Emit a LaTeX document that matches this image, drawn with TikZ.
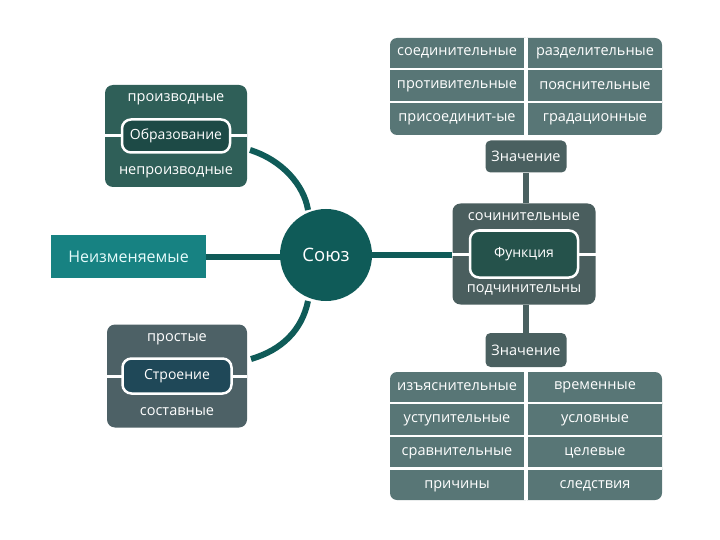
\documentclass[tikz,border=0pt]{standalone}
\usepackage{fontspec}
\setmainfont{Open Sans}
\definecolor{obrOut}{HTML}{2F5F58}
\definecolor{obrIn}{HTML}{1D4A46}
\definecolor{strOut}{HTML}{4D6166}
\definecolor{strIn}{HTML}{1F4858}
\definecolor{fnOut}{HTML}{4A5E5E}
\definecolor{fnIn}{HTML}{25524B}
\definecolor{cell}{HTML}{587676}
\definecolor{znach}{HTML}{4A6060}
\definecolor{neiz}{HTML}{178282}
\definecolor{soyuz}{HTML}{0F5B58}
\definecolor{txtlight}{HTML}{E6FAFA}
\tikzset{
  x=1pt, y=-1pt,
  lbl/.style={text=white, font=\fontsize{14.5}{16}\selectfont, inner sep=0pt},
  outerbox/.style={rounded corners=8pt, draw=none, inner sep=0pt},
  innerbox/.style={rounded corners=9pt, draw=white, line width=2.5pt, inner sep=0pt, text=white, font=\fontsize{14}{16}\selectfont},
  whiteline/.style={white, line width=3pt},
  cellbox/.style={fill=cell, draw=white, line width=2.5pt, text=white, font=\fontsize{14.5}{16}\selectfont, inner sep=0pt},
  znbox/.style={fill=znach, rounded corners=5pt, text=white, font=\fontsize{14.5}{16}\selectfont, inner sep=0pt, minimum width=81pt, minimum height=32pt},
  tealline/.style={soyuz, line width=6pt},
  grayline/.style={znach, line width=6pt},
}
\begin{document}
\begin{tikzpicture}
\useasboundingbox (0,0) rectangle (720,540);
\fill[white] (0,0) rectangle (720,540);

\node[circle, fill=soyuz, minimum size=92pt, inner sep=0pt, text=white, font=\fontsize{18.5}{20}\selectfont] (soyuz) at (326,255) {Союз};

% Образование group
\node[outerbox, fill=obrOut, minimum width=142pt, minimum height=102pt] (obr) at (176,136) {};
\draw[whiteline] (obr.west) -- (obr.east);
\node[innerbox, fill=obrIn, minimum width=108pt, minimum height=33pt] (obrin) at (176,136) {Образование};
\node[lbl] (obrt) at (176,99) {производные};
\node[lbl] (obrb) at (176,172) {непроизводные};

% Строение group
\node[outerbox, fill=strOut, minimum width=140pt, minimum height=103pt] (str) at (177,376) {};
\draw[whiteline] (str.west) -- (str.east);
\node[innerbox, fill=strIn, minimum width=109pt, minimum height=35pt] (strin) at (177,376) {Строение};
\node[lbl] (strt) at (177,339) {простые};
\node[lbl] (strb) at (177,412) {составные};

% Неизменяемые
\node[fill=neiz, minimum width=155pt, minimum height=43pt, inner sep=0pt, text=txtlight, font=\fontsize{16}{18}\selectfont] (neiz) at (128.5,256.5) {Неизменяемые};

% Функция group
\node[outerbox, fill=fnOut, minimum width=143pt, minimum height=101pt] (fn) at (524,254) {};
\draw[whiteline] (fn.west) -- (fn.east);
\node[innerbox, fill=fnIn, minimum width=108pt, minimum height=47pt] (fnin) at (524,254) {Функция};
\node[lbl] (fnt) at (524,217) {сочинительные};
\node[lbl] (fnb) at (524,290) {подчинительны};

% Значение boxes
\node[znbox] (zn1) at (526,156.5) {Значение};
\node[znbox, minimum height=34pt] (zn2) at (526,350) {Значение};

% connectors
\coordinate (obrEnd) at (250,150);
\coordinate (soyTop) at (308,210);
\coordinate (soyBot) at (308,301);
\coordinate (strEnd) at (251,359);
\draw[tealline] (neiz.east) -- (neiz.east -| soyuz.west);
\draw[tealline] (soyuz.east) -- (soyuz.east -| fn.west);
\draw[tealline] (obrEnd) .. controls (282,160) and (304,185) .. (soyTop);
\draw[tealline] (soyBot) .. controls (302,330) and (282,350) .. (strEnd);
\draw[grayline] (zn1.south) -- (zn1.south |- fn.north);
\draw[grayline] (fn.south -| zn2.north) -- (zn2.north);

% top grid
\begin{scope}
\clip[rounded corners=7pt] (390,38) rectangle (662,135);
\node[cellbox, minimum width=137pt, minimum height=35pt] (c11) at (457,53) {соединительные};
\node[cellbox, minimum width=137pt, minimum height=35pt] (c12) at (595,53) {разделительные};
\node[cellbox, minimum width=137pt, minimum height=34pt] (c21) at (457,86) {противительные};
\node[cellbox, minimum width=137pt, minimum height=34pt] (c22) at (595,86) {пояснительные};
\node[cellbox, minimum width=137pt, minimum height=35pt] (c31) at (457,119.5) {присоединит-ые};
\node[cellbox, minimum width=137pt, minimum height=35pt] (c32) at (595,119.5) {градационные};
\end{scope}

% bottom grid
\begin{scope}
\clip[rounded corners=7pt] (390,372) rectangle (662,500);
\node[cellbox, minimum width=137pt, minimum height=35pt] (d11) at (457,387) {изъяснительные};
\node[cellbox, minimum width=137pt, minimum height=35pt] (d12) at (595,387) {временные};
\node[cellbox, minimum width=137pt, minimum height=34pt] (d21) at (457,420) {уступительные};
\node[cellbox, minimum width=137pt, minimum height=34pt] (d22) at (595,420) {условные};
\node[cellbox, minimum width=137pt, minimum height=34pt] (d31) at (457,453) {сравнительные};
\node[cellbox, minimum width=137pt, minimum height=34pt] (d32) at (595,453) {целевые};
\node[cellbox, minimum width=137pt, minimum height=35pt] (d41) at (457,486) {причины};
\node[cellbox, minimum width=137pt, minimum height=35pt] (d42) at (595,486) {следствия};
\end{scope}
\end{tikzpicture}
\end{document}
